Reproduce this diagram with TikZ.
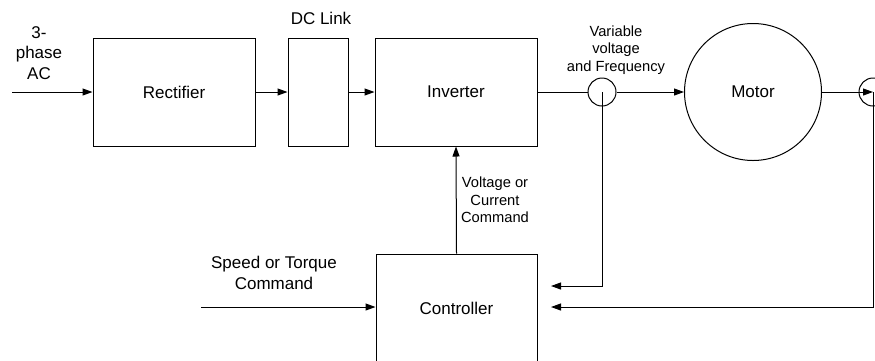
\documentclass[tikz,border=0pt]{standalone}
\usepackage{fontspec}
\setmainfont{Liberation Sans}
\usetikzlibrary{arrows.meta}
\begin{document}
\begin{tikzpicture}[x=1pt,y=-1pt,
  big/.style={font=\fontsize{17}{20.5}\selectfont},
  small/.style={font=\fontsize{14.7}{17.5}\selectfont},
  blk/.style={draw, line width=1pt, rectangle, inner sep=0pt, big},
  junc/.style={draw, line width=1pt, circle, minimum size=28pt, inner sep=0pt},
  lbl/.style={align=center, inner sep=0pt},
  conn/.style={line width=1pt},
  arr/.style={conn, -{Triangle[length=10pt,width=7pt]}}
]
\useasboundingbox (0,0) rectangle (875,360);
\clip (0,0) rectangle (875,360);

\node[blk, minimum width=162pt, minimum height=108pt] (rect) at (174,92) {Rectifier};
\node[blk, minimum width=60pt, minimum height=108pt] (dc) at (318,92) {};
\node[blk, minimum width=162pt, minimum height=108pt] (inv) at (456,92) {Inverter};
\node[junc] (j1) at (602,92) {};
\node[draw, line width=1pt, circle, minimum size=137pt, inner sep=0pt, big] (motor) at (753,92) {Motor};
\node[junc] (j2) at (873,92) {};
\node[blk, minimum width=161pt, minimum height=108pt] (ctrl) at (456.5,308) {Controller};

\coordinate (in0) at (12,92);
\coordinate (sp0) at (201,307);
\coordinate (fb1) at (551,286);
\coordinate (fb2) at (551,307);

\draw[arr] (in0) -- (rect.west);
\draw[arr] (rect.east) -- (dc.west);
\draw[arr] (dc.east) -- (inv.west);
\draw[conn] (inv.east) -- (j1.west);
\draw[arr] (j1.east) -- (motor.west);
\draw[arr] (motor.east) -- (j2.center);
\draw[arr] (j1.center) |- (fb1);
\draw[arr] (j2.center) |- (fb2);
\draw[arr] (sp0) -- (ctrl.west |- sp0);
\draw[arr] (ctrl.north) -- (inv.south);

\node[lbl, big] (lac) at (39,53) {3-\\phase\\AC};
\node[lbl, big] (ldc) at (321,18) {DC Link};
\node[lbl, small] (lvf) at (616,50) {Variable\\voltage\\and Frequency};
\node[lbl, small] (lvc) at (495,200) {Voltage or\\Current\\Command};
\node[lbl, big] (lsp) at (274,273) {Speed or Torque\\Command};
\end{tikzpicture}
\end{document}
